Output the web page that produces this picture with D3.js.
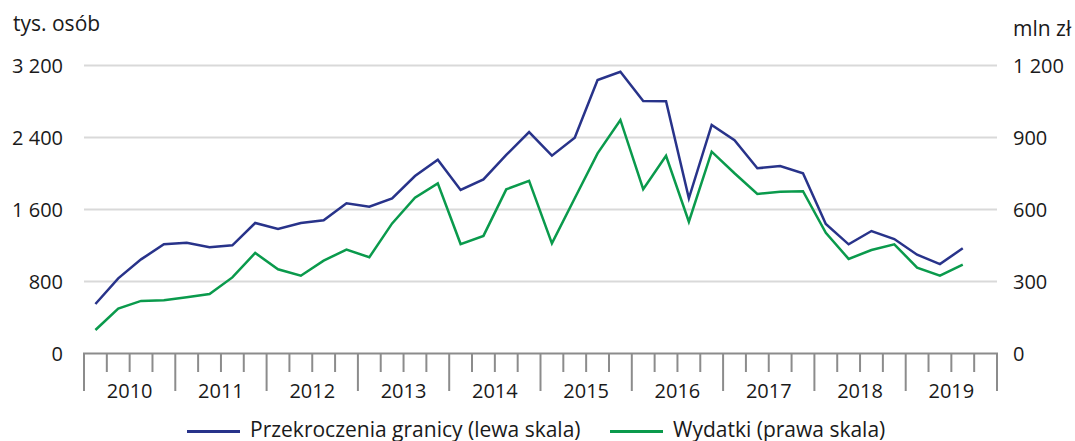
<!DOCTYPE html>
<html>
<head>
<meta charset="utf-8">
<script src="https://cdn.jsdelivr.net/npm/d3@7"></script>
<style>
	body{margin:0;background:#fff;}
	svg{display:block;}
</style>
</head>
<body>
<div id="chart"></div>
<script>
// kwartały 2010-2019
var years=[2010,2011,2012,2013,2014,2015,2016,2017,2018,2019];
var quarters=[];
years.forEach(function(y){ for(var q=1;q<=4;q++) quarters.push(y+'Q'+q) });

// tys. osób (lewa skala)
var przekroczenia=[550,835,1046,1213,1231,1180,1202,1450,1383,1450,
	1480,1669,1631,1724,1972,2154,1817,1935,2206,2461,
	2198,2398,3039,3131,2806,2802,1724,2539,2369,2058,
	2083,2002,1439,1213,1361,1272,1098,994,1169];
// mln zł (prawa skala)
var wydatki=[98,187,219,222,234,248,317,419,351,324,
	387,433,401,542,649,709,456,490,684,719,
	459,647,834,973,685,824,549,841,751,665,
	674,676,503,394,431,455,358,324,370];

var leftTicks=[0,800,1600,2400,3200];
var rightTicks=[0,300,600,900,1200];
var leftTitle='tys. osób', rightTitle='mln zł';
var legendNames=['Przekroczenia granicy (lewa skala)','Wydatki (prawa skala)'];

var W=1075, H=441,
	iLeft=84, iRight=997, iTop=65.5, iBottom=353.5,
	blue='#28338a', green='#0a9a4c',
	font='"Open Sans", sans-serif';

var oSvg=d3.select('#chart').append('svg')
	.attr('width',W).attr('height',H)
	.style('font-family',font).style('font-size','20px');

var x=d3.scaleBand().domain(quarters).range([iLeft,iRight]).padding(0);
var yL=d3.scaleLinear().domain([0,3200]).range([iBottom,iTop]);
var yR=d3.scaleLinear().domain([0,1200]).range([iBottom,iTop]);

//---------------- siatka ----------------
oSvg.append('g').selectAll('line').data(leftTicks.slice(1)).join('line')
	.attr('x1',iLeft).attr('x2',iRight)
	.attr('y1',function(d){return yL(d)}).attr('y2',function(d){return yL(d)})
	.attr('stroke','#d9d9d9').attr('stroke-width',2);

//---------------- osie Y ----------------
// separator tysięcy: spacja
var fmt=function(d){ return d>=1000 ? Math.floor(d/1000)+' '+d3.format('03')(d%1000) : String(d) };

oSvg.append('g').selectAll('text').data(leftTicks).join('text')
	.attr('x',63).attr('y',function(d){return yL(d)})
	.attr('dy','0.35em').attr('text-anchor','end').attr('fill','#1a1a1a')
	.text(fmt);
oSvg.append('g').selectAll('text').data(rightTicks).join('text')
	.attr('x',1013).attr('y',function(d){return yR(d)})
	.attr('dy','0.35em').attr('fill','#1a1a1a')
	.text(fmt);

oSvg.append('text').attr('x',13).attr('y',31).attr('fill','#1a1a1a')
	.style('font-size','21px').text(leftTitle);
oSvg.append('text').attr('x',1013).attr('y',36).attr('fill','#1a1a1a')
	.style('font-size','21px').text(rightTitle);

//---------------- oś X ----------------
var oGX=oSvg.append('g').attr('stroke','#8c8c8c').attr('stroke-width',2);
oGX.append('line').attr('x1',iLeft-1).attr('x2',iRight+1).attr('y1',iBottom).attr('y2',iBottom);
var edges=quarters.map(function(q){return x(q)}).concat([iRight]);
oGX.selectAll('line.tick').data(edges).join('line').attr('class','tick')
	.attr('x1',function(d){return d}).attr('x2',function(d){return d})
	.attr('y1',iBottom)
	.attr('y2',function(d,i){return i%4==0 ? 391 : 372});

oSvg.append('g').selectAll('text').data(years).join('text')
	.attr('x',function(d){return (x(d+'Q1')+x(d+'Q4')+x.bandwidth())/2})
	.attr('y',398).attr('text-anchor','middle').attr('fill','#1a1a1a')
	.text(function(d){return d});

//---------------- linie ----------------
var lineL=d3.line()
	.x(function(d,i){return x(quarters[i])+x.bandwidth()/2})
	.y(function(d){return yL(d)});
var lineR=d3.line()
	.x(function(d,i){return x(quarters[i])+x.bandwidth()/2})
	.y(function(d){return yR(d)});

oSvg.append('path').datum(wydatki).attr('d',lineR)
	.attr('fill','none').attr('stroke',green).attr('stroke-width',2.5).attr('stroke-linejoin','miter');
oSvg.append('path').datum(przekroczenia).attr('d',lineL)
	.attr('fill','none').attr('stroke',blue).attr('stroke-width',2.5).attr('stroke-linejoin','miter');

//---------------- legenda ----------------
var legend=[{name:legendNames[0],color:blue,x:187},{name:legendNames[1],color:green,x:610}];
var oGLeg=oSvg.append('g').style('font-size','21px');
legend.forEach(function(l){
	oGLeg.append('line').attr('x1',l.x).attr('x2',l.x+53).attr('y1',431.5).attr('y2',431.5)
		.attr('stroke',l.color).attr('stroke-width',3);
	oGLeg.append('text').attr('x',l.x+63).attr('y',437).attr('fill','#1a1a1a').text(l.name);
});
</script>
</body>
</html>
